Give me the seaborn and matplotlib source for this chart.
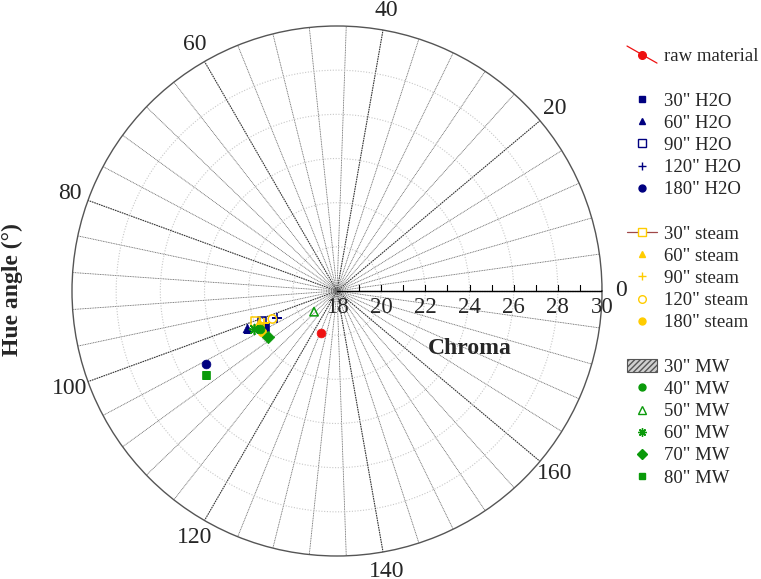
import numpy as np
import pandas as pd
import matplotlib
matplotlib.use("Agg")
import matplotlib.pyplot as plt
import seaborn as sns
from matplotlib.lines import Line2D
from matplotlib.patches import Patch
from matplotlib.transforms import offset_copy
from matplotlib.legend_handler import HandlerLine2D

# --- data (hue angle in degrees, chroma) ---
samples = ['raw material',
           '30" H2O', '60" H2O', '90" H2O', '120" H2O', '180" H2O',
           '30" steam', '60" steam', '90" steam', '120" steam', '180" steam',
           '40" MW', '50" MW', '60" MW', '70" MW', '80" MW']
hue_angle = [124.5,
             103.2, 101.2, 100.9, 102.0, 104.6,
             100.3, 100.8, 101.8, 101.7, 104.2,
             103.0, 111.0, 102.4, 106.8, 106.4]
chroma = [20.05,
          21.64, 22.42, 21.66, 20.99, 24.80,
          21.94, 21.78, 21.60, 21.19, 21.88,
          21.90, 19.40, 22.12, 21.74, 25.05]

angle_major = np.arange(0, 180, 20)   # labelled hue angles
angle_minor = np.arange(0, 180, 4)    # spokes
chroma_ticks = np.arange(18, 31, 2)

df = pd.DataFrame({"sample": samples, "hue": hue_angle, "chroma": chroma})
# 0-180 deg hue is spread over the full circle
df["theta"] = np.deg2rad(df["hue"] * 2)

NAVY = "#000080"
GOLD = "#FFCC00"
GREEN = "#0A9A0A"
RED = "#EE1111"

# marker, colour, filled?
style = {
    'raw material': ("o", RED, True),
    '30" H2O': ("s", NAVY, True),
    '60" H2O': ("^", NAVY, True),
    '90" H2O': ("s", NAVY, False),
    '120" H2O': ("+", NAVY, None),
    '180" H2O': ("o", NAVY, True),
    '30" steam': ("s", GOLD, False),
    '60" steam': ("^", GOLD, True),
    '90" steam': ("+", GOLD, None),
    '120" steam': ("o", GOLD, False),
    '180" steam': ("o", GOLD, True),
    '40" MW': ("o", GREEN, True),
    '50" MW': ("^", GREEN, False),
    '60" MW': ((8, 2, 0), GREEN, None),
    '70" MW': ("D", GREEN, True),
    '80" MW': ("s", GREEN, True),
}

sns.set_theme(style="white")
plt.rcParams['font.family'] = ['Liberation Serif', 'DejaVu Serif']

fig = plt.figure(figsize=(7.61, 5.79), dpi=100)
ax = fig.add_axes([72 / 761, 23 / 579, 530 / 761, 530 / 579], projection='polar')
ax.set_facecolor("white")
ax.set_ylim(18, 30)

ax.set_xticks(np.deg2rad(angle_major * 2))
ax.set_xticklabels([str(a) for a in angle_major])
ax.set_xticks(np.deg2rad(angle_minor * 2), minor=True)
ax.set_yticks(chroma_ticks[1:-1])
ax.set_yticklabels([])
ax.xaxis.grid(True, which='major', color='#333333', lw=0.8, ls=(0, (1.5, 0.7)))
ax.xaxis.grid(True, which='minor', color='#6a6a6a', lw=0.6, ls=(0, (1.2, 0.8)))
ax.yaxis.grid(True, color='#c8c8c8', lw=0.8, ls=(0, (1, 1.5)))
ax.tick_params(axis='x', which='both', length=0, pad=7, labelsize=17)
ax.tick_params(axis='y', length=0)
ax.spines['polar'].set_color('#555555')
ax.spines['polar'].set_linewidth(1.0)

# radial axis along 0 deg with small ticks
ax.plot([0, 0], [18, 30], color='black', lw=1.0, zorder=3)
ax.plot(np.zeros(12), np.arange(19, 31), ls='', marker=2, ms=4, mew=0.8,
        color='black', zorder=3)
lab_tr = offset_copy(ax.transData, fig=fig, x=0, y=-4, units='points')
for v in chroma_ticks:
    ax.text(0, v, str(v), transform=lab_tr, ha='center', va='top', fontsize=16.5)

# data points
for _, row in df.iterrows():
    mk, col, filled = style[row["sample"]]
    kw = dict(x=[row["theta"]], y=[row["chroma"]], ax=ax, marker=mk, legend=False, zorder=4)
    if filled is True:
        kw.update(s=40, facecolor=col, edgecolor=col, linewidth=0.5)
    elif filled is False:
        kw.update(s=36, facecolor='none', edgecolor=col, linewidth=1.1)
    else:
        kw.update(s=50, color=col, linewidth=1.2)
    sns.scatterplot(**kw)
ax.set_xlabel("")
ax.set_ylabel("")
ax.set_ylim(18, 30)

fig.text(470 / 761, 1 - 349 / 579, "Chroma", ha='center', va='center',
         fontsize=17, fontweight='bold')
fig.text(12 / 761, 1 - 290 / 579, "Hue angle (\u00b0)", ha='center', va='center',
         rotation=90, fontsize=17, fontweight='bold')


class DiagHandler(HandlerLine2D):
    def create_artists(self, legend, orig_handle, xdescent, ydescent,
                       width, height, fontsize, trans):
        x0, x1 = -xdescent, -xdescent + width
        y0, y1 = -ydescent + height * 1.15, -ydescent - height * 0.15
        ln = Line2D([x0, x1], [y0, y1], color=RED, lw=0.9, transform=trans)
        mk = Line2D([(x0 + x1) / 2], [(y0 + y1) / 2], ls='', marker='o', ms=5.5,
                    color=RED, transform=trans)
        return [ln, mk]


def handle_for(name, line=None):
    mk, col, filled = style[name]
    if filled is True:
        return Line2D([], [], ls='', marker=mk, ms=5, mfc=col, mec=col)
    if filled is False:
        return Line2D([], [], ls='-' if line else '', color=line or col, lw=0.9,
                      marker=mk, ms=5.5, mfc='white', mec=col, mew=1.0)
    return Line2D([], [], ls='', marker=mk, ms=6, color=col, mew=1.0)


blank = Line2D([], [], ls='', marker='')
raw_h = Line2D([], [], color=RED)
handles = [raw_h, blank]
labels = ['raw material', ' ']
for s in samples[1:6]:
    handles.append(handle_for(s)); labels.append(s)
handles.append(blank); labels.append(' ')
for s in samples[6:11]:
    handles.append(handle_for(s, line='#a04848' if s == '30" steam' else None)); labels.append(s)
handles.append(blank); labels.append(' ')
handles.append(Patch(facecolor='#d0d0d0', edgecolor='#555555', hatch='//////', lw=0.8))
labels.append('30" MW')
for s in samples[11:]:
    handles.append(handle_for(s)); labels.append(s)

fig.legend(handles, labels, loc='upper left', bbox_to_anchor=(627 / 761, 1 - 48 / 579),
           frameon=False, fontsize=13.5, handlelength=1.6, handletextpad=0.4,
           labelspacing=0.27, borderpad=0, borderaxespad=0,
           handler_map={raw_h: DiagHandler()})

fig.savefig("out.png", dpi=100)
